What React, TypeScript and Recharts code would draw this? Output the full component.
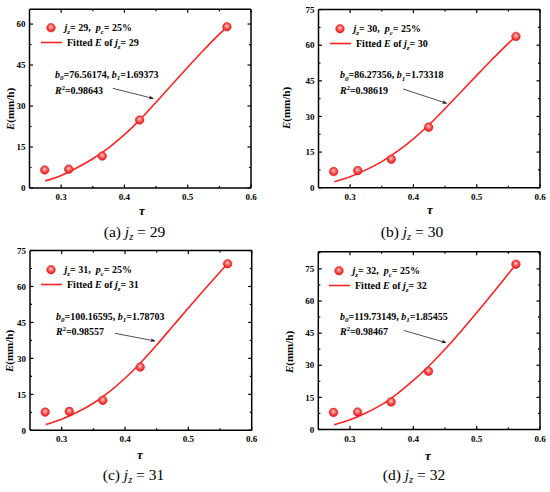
import React from 'react';
import { ComposedChart, Line, Scatter, XAxis, YAxis, Legend } from 'recharts';

// ---------- data ----------
const TAU = [0.274, 0.312, 0.365, 0.424, 0.562];
const E_JZ29 = [6.6, 6.9, 11.7, 24.9, 59.0];
const E_JZ30 = [6.8, 7.2, 12.0, 25.5, 63.7];
const E_JZ31 = [7.6, 7.9, 12.5, 26.4, 69.5];
const E_JZ32 = [8.0, 8.2, 12.9, 27.2, 77.2];

const FIT_TAU = [0.275, 0.3, 0.325, 0.35, 0.375, 0.4, 0.425, 0.45, 0.475, 0.5, 0.525, 0.55, 0.562];
const FIT_JZ29 = [2.6, 4.6, 7.4, 10.7, 14.7, 19.5, 25.1, 31.4, 37.8, 44.2, 50.4, 56.3, 58.9];
const FIT_JZ30 = [2.5, 4.6, 7.5, 11.0, 15.4, 20.6, 26.6, 33.3, 40.3, 47.3, 54.2, 60.8, 63.7];
const FIT_JZ31 = [2.4, 4.6, 7.6, 11.3, 16.0, 21.7, 28.3, 35.6, 43.3, 51.0, 58.6, 66.0, 69.5];
const FIT_JZ32 = [2.2, 4.5, 7.7, 11.6, 16.8, 22.9, 29.8, 37.5, 45.8, 54.5, 63.5, 72.7, 77.1];

const X_TICKS = [0.3, 0.35, 0.4, 0.45, 0.5, 0.55, 0.6];
const Y_TICKS_60 = [0, 7.5, 15, 22.5, 30, 37.5, 45, 52.5, 60];
const Y_TICKS_75 = [0, 7.5, 15, 22.5, 30, 37.5, 45, 52.5, 60, 67.5, 75];
const Y_TICKS_82 = [0, 7.5, 15, 22.5, 30, 37.5, 45, 52.5, 60, 67.5, 75, 82.5];

const JZ = ['29', '30', '31', '32'];
const PANEL_TAGS = ['(a)', '(b)', '(c)', '(d)'];
const B0 = ['76.56174', '86.27356', '100.16595', '119.73149'];
const B1 = ['1.69373', '1.73318', '1.78703', '1.85455'];
const R2 = ['0.98643', '0.98619', '0.98557', '0.98467'];
const PC = '25%';

// ---------- layout ----------
const FONT = '"Liberation Serif", "Times New Roman", serif';
const RED = '#ff2222';
const W = 275;
const H = 246;

const LAYOUT = [
  { left: 0, top: 0, l: 29.5, r: 251, t: 9.3, b: 188, yMax: 65.4, yTicks: Y_TICKS_60,
    ann: { x: 55, y1: 77.5, y2: 94, ax1: 112.7, ay1: 88.3, ax2: 153.3, ay2: 98.5 },
    ylab: { x: 10, y: 109 }, xlab: { x: 142, y: 215 }, cap: { x: 134.5, y: 237 } },
  { left: 275, top: 0, l: 43.5, r: 265, t: 9.6, b: 187.7, yMax: 75, yTicks: Y_TICKS_75,
    ann: { x: 340, y1: 78, y2: 94, ax1: 403, ay1: 89, ax2: 446.7, ay2: 103.3 },
    ylab: { x: 286, y: 108 }, xlab: { x: 430, y: 214 }, cap: { x: 412, y: 237 } },
  { left: 0, top: 246, l: 30, r: 251.7, t: 4.5, b: 184.3, yMax: 75, yTicks: Y_TICKS_75,
    ann: { x: 56, y1: 319.5, y2: 334.5, ax1: 115, ay1: 333.3, ax2: 155, ay2: 341 },
    ylab: { x: 9, y: 351 }, xlab: { x: 140, y: 459 }, cap: { x: 133.5, y: 480 } },
  { left: 275, top: 246, l: 43.3, r: 265, t: 5.8, b: 183.5, yMax: 83, yTicks: Y_TICKS_82,
    ann: { x: 340, y1: 319.5, y2: 334.5, ax1: 404, ay1: 330.5, ax2: 446, ay2: 342.7 },
    ylab: { x: 289, y: 352 }, xlab: { x: 428, y: 460 }, cap: { x: 414, y: 480 } },
];

const SCATTER_SETS = [E_JZ29, E_JZ30, E_JZ31, E_JZ32];
const FIT_SETS = [FIT_JZ29, FIT_JZ30, FIT_JZ31, FIT_JZ32];

// ---------- ticks ----------
function XTick(props: any) {
  const { x, y, payload, side } = props;
  const v = Number(payload.value);
  const major = Math.abs(v * 10 - Math.round(v * 10)) < 1e-6;
  const len = major ? 3.5 : 2;
  const dir = side === 'top' ? 1 : -1;
  return (
    <g>
      <line x1={x} x2={x} y1={y} y2={y + dir * len} stroke="#000" strokeWidth={1.2} />
      {side !== 'top' && major && (
        <text x={x} y={y + 12} textAnchor="middle" fontFamily={FONT} fontWeight="bold" fontSize={9} fill="#000">
          {v.toFixed(1)}
        </text>
      )}
    </g>
  );
}

function YTick(props: any) {
  const { x, y, payload, side } = props;
  const v = Number(payload.value);
  const major = Math.abs(v / 15 - Math.round(v / 15)) < 1e-6;
  const len = major ? 3.5 : 2;
  const dir = side === 'right' ? -1 : 1;
  return (
    <g>
      <line x1={x} x2={x + dir * len} y1={y} y2={y} stroke="#000" strokeWidth={1.2} />
      {side !== 'right' && major && (
        <text x={x - 4} y={y + 3.2} textAnchor="end" fontFamily={FONT} fontWeight="bold" fontSize={9} fill="#000">
          {String(v)}
        </text>
      )}
    </g>
  );
}

function Ball(props: any) {
  const { cx, cy } = props;
  if (cx == null || cy == null) return null;
  return <circle cx={cx} cy={cy} r={4.3} fill="url(#ballGrad)" stroke="#e41414" strokeWidth={0.5} />;
}

function LegendBox({ jz }: { jz: string }) {
  return (
    <svg width={140} height={36} style={{ overflow: 'visible', display: 'block' }}>
      <circle cx={15} cy={10.7} r={4.3} fill="url(#ballGrad)" stroke="#e41414" strokeWidth={0.5} />
      <text x={28.5} y={14.2} fontFamily={FONT} fontWeight="bold" fontSize={10} fill="#000">
        <tspan fontStyle="italic">j</tspan>
        <tspan fontStyle="italic" fontSize={7} dy={2.5}>z</tspan>
        <tspan dy={-2.5}>{'= ' + jz + ',\u00a0\u00a0'}</tspan>
        <tspan fontStyle="italic">p</tspan>
        <tspan fontStyle="italic" fontSize={7} dy={2.5}>c</tspan>
        <tspan dy={-2.5}>{'= ' + PC}</tspan>
      </text>
      <line x1={5} x2={26} y1={25.5} y2={25.5} stroke={RED} strokeWidth={1.6} />
      <text x={31} y={29} fontFamily={FONT} fontWeight="bold" fontSize={10} fill="#000">
        <tspan>{'Fitted '}</tspan>
        <tspan fontStyle="italic">E</tspan>
        <tspan>{' of '}</tspan>
        <tspan fontStyle="italic">j</tspan>
        <tspan fontStyle="italic" fontSize={7} dy={2.5}>z</tspan>
        <tspan dy={-2.5}>{'= ' + jz}</tspan>
      </text>
    </svg>
  );
}

function Panel({ idx }: { idx: number }) {
  const cfg = LAYOUT[idx];
  const scatter = TAU.map((t, i) => ({ t, e: SCATTER_SETS[idx][i] }));
  const fit = FIT_TAU.map((t, i) => ({ t, e: FIT_SETS[idx][i] }));
  const margin = { top: cfg.t - 1, right: W - cfg.r - 1, bottom: H - cfg.b - 20, left: 0 };
  const axisLine = { stroke: '#000', strokeWidth: 1.5 };
  return (
    <div style={{ position: 'absolute', left: cfg.left, top: cfg.top, width: W, height: H }}>
      <ComposedChart width={W} height={H} margin={margin}>
        <XAxis xAxisId="b" dataKey="t" type="number" domain={[0.25, 0.6]} allowDataOverflow ticks={X_TICKS}
          interval={0} tickSize={0} tickMargin={0} height={20} tickLine={false} axisLine={axisLine}
          tick={<XTick side="bottom" />} />
        <XAxis xAxisId="t" dataKey="t" type="number" orientation="top" domain={[0.25, 0.6]} allowDataOverflow
          ticks={X_TICKS} interval={0} tickSize={0} tickMargin={0} height={1} tickLine={false} axisLine={axisLine}
          tick={<XTick side="top" />} />
        <YAxis yAxisId="l" dataKey="e" type="number" domain={[0, cfg.yMax]} allowDataOverflow ticks={cfg.yTicks}
          interval={0} tickSize={0} tickMargin={0} width={cfg.l} tickLine={false} axisLine={axisLine}
          tick={<YTick side="left" />} />
        <YAxis yAxisId="r" dataKey="e" type="number" orientation="right" domain={[0, cfg.yMax]} allowDataOverflow
          ticks={cfg.yTicks} interval={0} tickSize={0} tickMargin={0} width={1} tickLine={false} axisLine={axisLine}
          tick={<YTick side="right" />} />
        <Line xAxisId="b" yAxisId="l" data={fit} dataKey="e" type="monotone" stroke={RED} strokeWidth={1.6}
          dot={false} activeDot={false} isAnimationActive={false} name="Fitted E" />
        <Scatter xAxisId="b" yAxisId="l" data={scatter} dataKey="e" shape={<Ball />} isAnimationActive={false} name="jz" />
        <Legend layout="vertical" align="center" verticalAlign="middle"
          content={() => <LegendBox jz={JZ[idx]} />}
          wrapperStyle={{ left: cfg.l + 6, top: cfg.t + 8, width: 140, height: 36 }} />
      </ComposedChart>
    </div>
  );
}

function Overlay() {
  return (
    <svg width={550} height={492} style={{ position: 'absolute', left: 0, top: 0, pointerEvents: 'none' }}>
      <defs>
        <radialGradient id="ballGrad" cx="50%" cy="45%" r="55%" fx="48%" fy="40%">
          <stop offset="0" stopColor="#ffe6e6" />
          <stop offset="0.35" stopColor="#ff7676" />
          <stop offset="1" stopColor="#e41212" />
        </radialGradient>
        <marker id="arrowHead" viewBox="0 0 10 10" refX="9" refY="5" markerWidth="6" markerHeight="5" orient="auto"
          markerUnits="userSpaceOnUse">
          <path d="M0,1 L10,5 L0,9 L2.5,5 Z" fill="#222" />
        </marker>
      </defs>
      {LAYOUT.map((cfg, i) => (
        <g key={i}>
          <text x={cfg.ann.x} y={cfg.ann.y1} fontFamily={FONT} fontWeight="bold" fontSize={10} fill="#000">
            <tspan fontStyle="italic">b</tspan>
            <tspan fontStyle="italic" fontSize={7} dy={2.5}>0</tspan>
            <tspan dy={-2.5}>{'=' + B0[i] + ', '}</tspan>
            <tspan fontStyle="italic">b</tspan>
            <tspan fontStyle="italic" fontSize={7} dy={2.5}>1</tspan>
            <tspan dy={-2.5}>{'=' + B1[i]}</tspan>
          </text>
          <text x={cfg.ann.x} y={cfg.ann.y2} fontFamily={FONT} fontWeight="bold" fontSize={10} fill="#000">
            <tspan fontStyle="italic">R</tspan>
            <tspan fontSize={6.5} dy={-4}>2</tspan>
            <tspan dy={4}>{'=' + R2[i]}</tspan>
          </text>
          <line x1={cfg.ann.ax1} y1={cfg.ann.ay1} x2={cfg.ann.ax2} y2={cfg.ann.ay2} stroke="#222" strokeWidth={0.8}
            markerEnd="url(#arrowHead)" />
          <text transform={`translate(${cfg.ylab.x},${cfg.ylab.y}) rotate(-90)`} textAnchor="middle"
            dominantBaseline="central" fontFamily={FONT} fontWeight="bold" fontSize={11} fill="#000">
            <tspan fontStyle="italic">E</tspan>
            <tspan>(mm/h)</tspan>
          </text>
          <text x={cfg.xlab.x} y={cfg.xlab.y} textAnchor="middle" fontFamily={FONT} fontWeight="bold"
            fontStyle="italic" fontSize={13} fill="#000">τ</text>
          <text x={cfg.cap.x} y={cfg.cap.y} textAnchor="middle" fontFamily={FONT} fontSize={15.5} fill="#000">
            <tspan>{PANEL_TAGS[i] + ' '}</tspan>
            <tspan fontStyle="italic">j</tspan>
            <tspan fontStyle="italic" fontSize={10.5} dy={3}>z</tspan>
            <tspan dy={-3}>{' = ' + JZ[i]}</tspan>
          </text>
        </g>
      ))}
    </svg>
  );
}

export default function App() {
  return (
    <div style={{ position: 'absolute', left: 0, top: 0, width: 550, height: 492, background: '#fff' }}>
      {LAYOUT.map((_, i) => (
        <Panel key={i} idx={i} />
      ))}
      <Overlay />
    </div>
  );
}
